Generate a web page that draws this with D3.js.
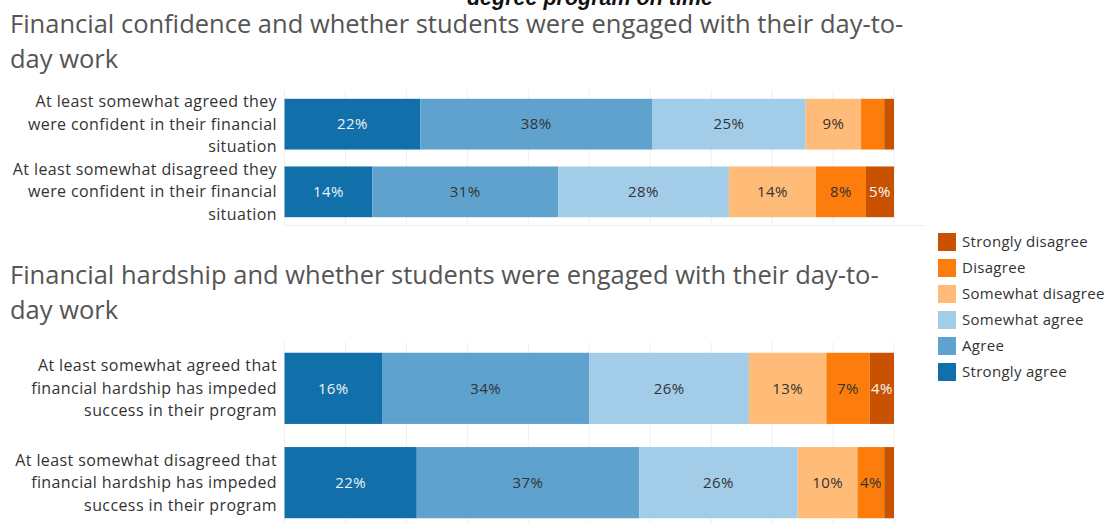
<!DOCTYPE html>
<html>
<head>
<meta charset="utf-8">
<script src="https://cdn.jsdelivr.net/npm/d3@7"></script>
<style>
  body { margin: 0; background: #fff; }
  svg { display: block; }
  text { font-family: "Open Sans", sans-serif; }
</style>
</head>
<body>
<div id="chart"></div>
<script>
// response categories, left to right in the bars
var responses = ['Strongly agree', 'Agree', 'Somewhat agree', 'Somewhat disagree', 'Disagree', 'Strongly disagree'];
var colors = ['#1170aa', '#5fa2ce', '#a3cce9', '#ffbc79', '#fc7d0b', '#c85200'];
var labelColors = ['#eef2f6', '#333', '#333', '#333', '#333', '#f6f6f6'];

// chart 1 - financial confidence
var title1 = ['Financial confidence and whether students were engaged with their day-to-', 'day work'];
var rows1 = [
    ['At least somewhat agreed they', 'were confident in their financial', 'situation'],
    ['At least somewhat disagreed they', 'were confident in their financial', 'situation']
];
var values1 = [
    [22.3, 38.0, 25.2, 9.1, 3.8, 1.6],
    [14.4, 30.5, 28.0, 14.3, 8.2, 4.6]
];

// chart 2 - financial hardship
var title2 = ['Financial hardship and whether students were engaged with their day-to-', 'day work'];
var rows2 = [
    ['At least somewhat agreed that', 'financial hardship has impeded', 'success in their program'],
    ['At least somewhat disagreed that', 'financial hardship has impeded', 'success in their program']
];
var values2 = [
    [16.0, 34.0, 26.2, 12.7, 7.1, 4.0],
    [21.7, 36.5, 26.0, 9.8, 4.4, 1.6]
];

var gridTicks = [0, 10, 20, 30, 40, 50, 60, 70, 80, 90, 100];
var legendOrder = ['Strongly disagree', 'Disagree', 'Somewhat disagree', 'Somewhat agree', 'Agree', 'Strongly agree'];

var W = 1106, H = 523;
var svg = d3.select('#chart').append('svg').attr('width', W).attr('height', H);

var x = d3.scaleLinear().domain([0, 100]).range([284.5, 894]);
var color = d3.scaleOrdinal().domain(responses).range(colors);
var labelColor = d3.scaleOrdinal().domain(responses).range(labelColors);

// cut off heading of the previous chart (it is clipped in the original too)
svg.append('text')
    .attr('x', 590).attr('y', 5)
    .attr('text-anchor', 'middle')
    .style('font-family', '"Liberation Sans", Arial, sans-serif')
    .style('font-weight', 'bold').style('font-style', 'italic')
    .style('font-size', '21.5px').attr('fill', '#111')
    .text('degree program on time');

function drawPanel(title, titleY, rows, values, top, bottom, pIn, pOut) {
    var g = svg.append('g');

    g.selectAll('.title').data(title).enter().append('text')
        .attr('x', 10).attr('y', (d, i) => titleY + i * 35)
        .style('font-size', '25.5px').attr('fill', '#555')
        .text(d => d);

    var y = d3.scaleBand().domain(d3.range(rows.length)).range([top, bottom])
        .paddingInner(pIn).paddingOuter(pOut);

    // light grid
    g.selectAll('.grid').data(gridTicks).enter().append('line')
        .attr('x1', d => x(d)).attr('x2', d => x(d))
        .attr('y1', top).attr('y2', bottom)
        .attr('stroke', '#efefef').attr('stroke-width', 1);

    rows.forEach(function(lines, r) {
        var cy = y(r) + y.bandwidth() / 2;
        g.append('g').selectAll('text').data(lines).enter().append('text')
            .attr('x', 277)
            .attr('y', (d, i) => cy + (i - (lines.length - 1) / 2) * 22.5)
            .attr('dy', '0.35em')
            .attr('text-anchor', 'end')
            .style('font-size', '16px').style('letter-spacing', '0.4px')
            .attr('fill', '#333')
            .text(d => d);

        var start = 0;
        var segs = values[r].map(function(v, i) {
            var s = {key: responses[i], x0: start, v: v};
            start += v;
            return s;
        });

        var seg = g.append('g').selectAll('g').data(segs).enter().append('g');
        seg.append('rect')
            .attr('x', d => x(d.x0))
            .attr('y', y(r))
            .attr('width', d => x(d.x0 + d.v) - x(d.x0))
            .attr('height', y.bandwidth())
            .attr('fill', d => color(d.key));
        seg.filter(d => d.v >= 3.9).append('text')
            .attr('x', d => x(d.x0 + d.v / 2))
            .attr('y', cy)
            .attr('dy', '0.35em')
            .attr('text-anchor', 'middle')
            .style('font-size', '15px').style('letter-spacing', '0.4px')
            .attr('fill', d => labelColor(d.key))
            .text(d => Math.round(d.v) + '%');
    });
    return g;
}

var p1 = drawPanel(title1, 33, rows1, values1, 90, 226, 0.25, 0.13);
p1.append('line').attr('x1', 284).attr('x2', 925).attr('y1', 225.5).attr('y2', 225.5)
    .attr('stroke', '#efefef');
drawPanel(title2, 284, rows2, values2, 342, 529, 0.245, 0.114);

// legend
var leg = svg.append('g').selectAll('g').data(legendOrder).enter().append('g')
    .attr('transform', (d, i) => `translate(938, ${233 + i * 26})`);
leg.append('rect').attr('width', 18).attr('height', 18).attr('fill', d => color(d));
leg.append('text').attr('x', 24).attr('y', 9).attr('dy', '0.35em')
    .style('font-size', '15px').style('letter-spacing', '0.3px')
    .attr('fill', '#333')
    .text(d => d);
</script>
</body>
</html>
